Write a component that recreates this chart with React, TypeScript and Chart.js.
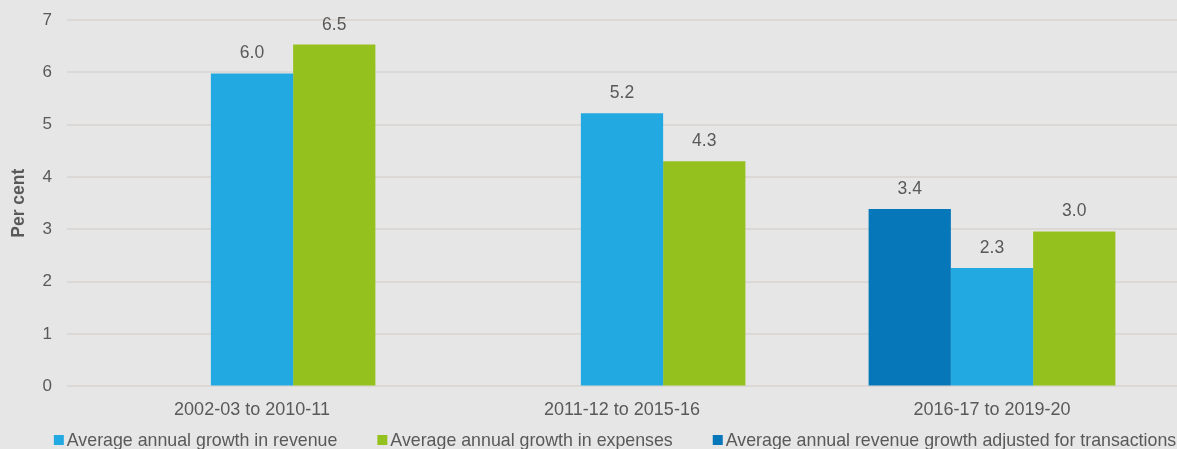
import React, { useEffect, useRef } from "react";
import { Chart, registerables } from "chart.js";

Chart.register(...registerables);

const categories = ["2002-03 to 2010-11", "2011-12 to 2015-16", "2016-17 to 2019-20"];
const adjustedRevenue: (number | null)[] = [null, null, 3.39];
const revenueGrowth = [5.98, 5.22, 2.26];
const expensesGrowth = [6.53, 4.3, 2.96];
const yTicks = [0, 1, 2, 3, 4, 5, 6, 7];

const seriesNames = [
  "Average annual revenue growth adjusted for transactions",
  "Average annual growth in revenue",
  "Average annual growth in expenses",
];
const colors = ["#0677b8", "#23a9e1", "#95c11f"];
const legendOrder = [1, 2, 0];

const FONT = "'Liberation Sans', Arial, sans-serif";
const TEXT = "#595959";

const valueLabels = {
  id: "valueLabels",
  afterDatasetsDraw(chart: any) {
    const ctx = chart.ctx;
    ctx.save();
    ctx.font = `17.5px ${FONT}`;
    ctx.fillStyle = TEXT;
    ctx.textAlign = "center";
    ctx.textBaseline = "alphabetic";
    chart.data.datasets.forEach((ds: any, i: number) => {
      const meta = chart.getDatasetMeta(i);
      meta.data.forEach((bar: any, j: number) => {
        const v = ds.data[j];
        if (v === null || v === undefined) return;
        ctx.fillText(Number(v).toFixed(1), bar.x, bar.y - 15);
      });
    });
    ctx.restore();
  },
};

const customLegend = {
  id: "customLegend",
  afterDraw(chart: any) {
    const ctx = chart.ctx;
    ctx.save();
    ctx.font = `17.8px ${FONT}`;
    ctx.textBaseline = "middle";
    ctx.textAlign = "left";
    const box = 10;
    const boxGap = 3;
    const itemGap = 40;
    const widths = legendOrder.map((i) => box + boxGap + ctx.measureText(seriesNames[i]).width);
    const total = widths.reduce((a, b) => a + b, 0) + itemGap * (widths.length - 1);
    let x = 615 - total / 2;
    const y = 440;
    legendOrder.forEach((i, k) => {
      ctx.fillStyle = colors[i];
      ctx.fillRect(x, y - box / 2, box, box);
      ctx.fillStyle = TEXT;
      ctx.fillText(seriesNames[i], x + box + boxGap, y + 1);
      x += widths[k] + itemGap;
    });
    ctx.restore();
  },
};

export default function App() {
  const ref = useRef<HTMLCanvasElement | null>(null);
  useEffect(() => {
    document.body.style.margin = "0";
    document.body.style.background = "#e6e6e6";
    const chart = new Chart(ref.current as HTMLCanvasElement, {
      type: "bar",
      data: {
        labels: categories,
        datasets: [adjustedRevenue, revenueGrowth, expensesGrowth].map((d, i) => ({
          label: seriesNames[i],
          data: d,
          backgroundColor: colors[i],
          borderWidth: 0,
          categoryPercentage: 0.667,
          barPercentage: 1.0,
        })),
      },
      options: {
        animation: false,
        responsive: false,
        maintainAspectRatio: false,
        layout: { padding: { top: 20, left: 9, right: 0, bottom: 15 } },
        plugins: {
          tooltip: { enabled: false },
          legend: { display: false },
        },
        scales: {
          x: {
            grid: { display: false, drawTicks: false },
            border: { display: false },
            ticks: { color: TEXT, font: { family: FONT, size: 18 }, padding: 13 },
          },
          y: {
            min: 0,
            max: 7,
            afterBuildTicks: (axis: any) => {
              axis.ticks = yTicks.map((v) => ({ value: v }));
            },
            afterFit: (scale: any) => {
              scale.width = 58;
              scale.paddingTop = 0;
            },
            grid: { color: "#dbd8d5", lineWidth: 2, drawTicks: false },
            border: { display: false },
            ticks: { color: TEXT, font: { family: FONT, size: 17 }, padding: 15 },
            title: {
              display: true,
              text: "Per cent",
              color: TEXT,
              font: { family: FONT, size: 17.5, weight: "bold" },
              padding: { top: 0, bottom: 0 },
            },
          },
        },
      },
      plugins: [valueLabels, customLegend],
    });
    return () => chart.destroy();
  }, []);
  return (
    <div style={{ width: 1177, height: 449, background: "#e6e6e6" }}>
      <canvas ref={ref} width={1177} height={449} style={{ display: "block" }} />
    </div>
  );
}
